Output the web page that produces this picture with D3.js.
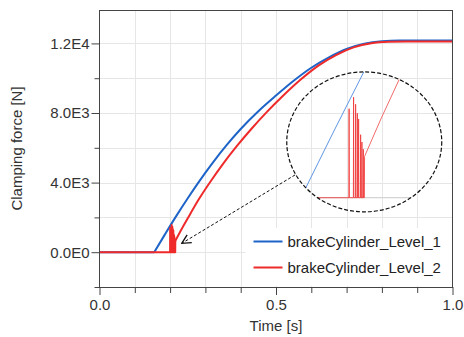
<!DOCTYPE html>
<html>
<head>
<meta charset="utf-8">
<script src="https://cdn.jsdelivr.net/npm/d3@7"></script>
<style>
  body { margin: 0; background: #fff; }
  text { font-family: "Liberation Sans", Arial, sans-serif; }
</style>
</head>
<body>
<div id="chart"></div>
<script>
// brakeCylinder_Level_1 (blue)
let timeLevel1  = [0, 0.155, 0.185, 0.215, 0.25, 0.28, 0.32, 0.36, 0.40, 0.45, 0.50, 0.55, 0.60, 0.65, 0.70, 0.75, 0.80, 0.85, 1.0];
let forceLevel1 = [0, 0, 1010, 2000, 3100, 4000, 5120, 6150, 7080, 8100, 9000, 9850, 10600, 11200, 11680, 11980, 12120, 12160, 12160];

// brakeCylinder_Level_2 (red): idle + contact chatter
let timeLevel2Chatter  = [0, 0.2000, 0.2002, 0.2004, 0.2042, 0.2044, 0.2046, 0.2061, 0.2063, 0.2065, 0.2077, 0.2079, 0.2081,
                          0.2089, 0.2091, 0.2093, 0.2108, 0.2110, 0.2112, 0.2120, 0.2122, 0.2124, 0.2133, 0.2135, 0.2137, 0.2145, 0.2147];
let forceLevel2Chatter = [0, 0, 1390, 0, 0, 1570, 0, 0, 1460, 0, 0, 1320, 0,
                          0, 1230, 0, 0, 985, 0, 0, 870, 0, 0, 757, 0, 0, 645];
// ... then the build-up
let timeLevel2  = [0.2147, 0.23, 0.25, 0.28, 0.315, 0.35, 0.39, 0.43, 0.475, 0.52, 0.57, 0.62, 0.67, 0.72, 0.77, 0.82, 0.87, 1.0];
let forceLevel2 = [645, 1230, 1950, 3000, 4080, 5080, 6120, 7080, 8080, 8990, 9920, 10720, 11330, 11770, 12010, 12090, 12110, 12110];

let seriesNames  = ["brakeCylinder_Level_1", "brakeCylinder_Level_2"];
let seriesColors = ["#1e64c8", "#ee2a2a"];

let xTicks = [0, 0.1, 0.2, 0.3, 0.4, 0.5, 0.6, 0.7, 0.8, 0.9, 1.0];
let xLabeled = [0, 0.5, 1.0];
let yTicks = [-2000, 0, 2000, 4000, 6000, 8000, 10000, 12000];
let yLabeled = [0, 4000, 8000, 12000];

// magnifier lens (data units) and arrow
let lens = {t: 0.75, f: 6340, rt: 0.2195, rf: 4020};
let arrowFrom = [0.554, 4440], arrowTo = [0.233, 510];
// window of data shown inside the lens and where it lands in the main coordinates
let insetTime = [0.2, 0.25], insetAt = [0.7065, 0.8576];
let insetForce = [0, 2000], insetAtF = [3132, 10489];

const W = 464, H = 337;
let margin = {top: 10, right: 11.5, bottom: 50, left: 99.5};

let svg = d3.select("#chart").append("svg")
  .attr("width", W)
  .attr("height", H);

let x = d3.scaleLinear().domain([0, 1]).range([margin.left, W - margin.right]);
let y = d3.scaleLinear().domain([-2000, 13920]).range([H - margin.bottom, margin.top]);

let zip = (ts, fs) => ts.map((t, i) => [t, fs[i]]);
let level1 = zip(timeLevel1, forceLevel1);
let level2Chatter = zip(timeLevel2Chatter, forceLevel2Chatter);
let level2 = zip(timeLevel2, forceLevel2);

// grid
svg.append("g").selectAll("line")
  .data(xTicks.filter(d => d > 0 && d < 1))
  .join("line")
  .attr("x1", d => Math.round(x(d)) + 0.5).attr("x2", d => Math.round(x(d)) + 0.5)
  .attr("y1", y.range()[1]).attr("y2", y.range()[0])
  .attr("stroke", "#e6e6e6");
svg.append("g").selectAll("line")
  .data(yTicks.filter(d => d > -2000))
  .join("line")
  .attr("x1", x.range()[0]).attr("x2", x.range()[1])
  .attr("y1", d => Math.round(y(d)) + 0.5).attr("y2", d => Math.round(y(d)) + 0.5)
  .attr("stroke", "#e6e6e6");

// series
function drawSeries(g, xs, ys, width, parts) {
  let lin = d3.line().x(d => xs(d[0])).y(d => ys(d[1]));
  let smooth = d3.line().x(d => xs(d[0])).y(d => ys(d[1])).curve(d3.curveMonotoneX);
  parts.forEach(p => {
    g.append("path")
      .datum(p.data)
      .attr("fill", "none")
      .attr("stroke", p.color)
      .attr("stroke-width", width)
      .attr("stroke-opacity", p.opacity || 1)
      .attr("stroke-linejoin", "round")
      .attr("d", p.smooth ? smooth : lin);
  });
}

let plot = svg.append("g");
drawSeries(plot, x, y, 2, [
  {data: level1.slice(0, 2), color: seriesColors[0]},
  {data: level1.slice(1), color: seriesColors[0], smooth: true},
  {data: level2Chatter, color: seriesColors[1]},
  {data: level2, color: seriesColors[1], smooth: true}
]);

// magnifier
let cx = x(lens.t), cy = y(lens.f);
let rx = x(lens.t + lens.rt) - cx, ry = y(lens.f - lens.rf) - cy;

let defs = svg.append("defs");
defs.append("clipPath").attr("id", "lensClip")
  .append("ellipse")
  .attr("cx", cx).attr("cy", cy).attr("rx", rx).attr("ry", ry);

defs.append("marker")
  .attr("id", "arrowHead")
  .attr("viewBox", "-11 -6 12 12")
  .attr("refX", 0).attr("refY", 0)
  .attr("markerUnits", "userSpaceOnUse")
  .attr("markerWidth", 12).attr("markerHeight", 12)
  .attr("orient", "auto")
  .append("path")
  .attr("d", "M-9,-4.5L0,0L-9,4.5")
  .attr("fill", "none")
  .attr("stroke", "#111")
  .attr("stroke-width", 1.3);

let ix = d3.scaleLinear().domain(insetTime).range(insetAt.map(x));
let iy = d3.scaleLinear().domain(insetForce).range(insetAtF.map(y));

let inset = svg.append("g").attr("clip-path", "url(#lensClip)");
inset.append("line")
  .attr("x1", cx - rx).attr("x2", cx + rx)
  .attr("y1", iy(0)).attr("y2", iy(0))
  .attr("stroke", "#d4d4d4").attr("stroke-width", 1.2);
drawSeries(inset, ix, iy, 1, [
  {data: level1, color: "#5d95e2"},
  {data: level2Chatter, color: "#f03a3a", opacity: 0.85},
  {data: level2, color: "#f06a6a"}
]);

svg.append("ellipse")
  .attr("cx", cx).attr("cy", cy).attr("rx", rx).attr("ry", ry)
  .attr("fill", "none")
  .attr("stroke", "#111")
  .attr("stroke-width", 1.2)
  .attr("stroke-dasharray", "4,2");

svg.append("line")
  .attr("x1", x(arrowFrom[0])).attr("y1", y(arrowFrom[1]))
  .attr("x2", x(arrowTo[0])).attr("y2", y(arrowTo[1]))
  .attr("stroke", "#111")
  .attr("stroke-width", 1)
  .attr("stroke-dasharray", "3,2")
  .attr("marker-end", "url(#arrowHead)");

// legend
let lgX = x.range()[1] - 207, lgY = y.range()[0] - 59;
let legend = svg.append("g");
legend.append("rect")
  .attr("x", lgX).attr("y", lgY)
  .attr("width", 207).attr("height", 58)
  .attr("fill", "#fff");
seriesNames.forEach((name, i) => {
  let ly = lgY + 13.5 + i * 26;
  legend.append("line")
    .attr("x1", lgX + 8).attr("x2", lgX + 37)
    .attr("y1", ly).attr("y2", ly)
    .attr("stroke", seriesColors[i])
    .attr("stroke-width", 2);
  legend.append("text")
    .attr("x", lgX + 42).attr("y", ly + 5.5)
    .attr("font-size", 15)
    .attr("fill", "#222")
    .text(name);
});

// frame
svg.append("rect")
  .attr("x", x.range()[0]).attr("y", y.range()[1] + 0.5)
  .attr("width", x.range()[1] - x.range()[0])
  .attr("height", y.range()[0] - y.range()[1])
  .attr("fill", "none")
  .attr("stroke", "#444")
  .attr("stroke-width", 1);

// axes
let fmtE = d => d3.format(".1e")(d).replace("e+", "E").replace("e-", "E-");

let yAxis = d3.axisLeft(y)
  .tickValues(yTicks)
  .tickSize(8)
  .tickPadding(2)
  .tickFormat(d => yLabeled.includes(d) ? fmtE(d) : "");
let gy = svg.append("g")
  .attr("transform", "translate(" + x.range()[0] + ",0)")
  .call(yAxis);
gy.select(".domain").remove();
gy.selectAll(".tick line")
  .attr("stroke", "#444")
  .attr("x2", d => yLabeled.includes(d) ? -8 : -5);
gy.selectAll(".tick text")
  .attr("font-size", 15)
  .attr("font-family", "Liberation Sans, Arial, sans-serif")
  .attr("fill", "#333");

let xAxis = d3.axisBottom(x)
  .tickValues(xTicks)
  .tickSize(7)
  .tickPadding(5)
  .tickFormat(d => xLabeled.includes(d) ? d3.format(".1f")(d) : "");
let gx = svg.append("g")
  .attr("transform", "translate(0," + y.range()[0] + ")")
  .call(xAxis);
gx.select(".domain").remove();
gx.selectAll(".tick line")
  .attr("stroke", "#444")
  .attr("y2", d => xLabeled.includes(d) ? 8 : 6);
gx.selectAll(".tick text")
  .attr("font-size", 15)
  .attr("font-family", "Liberation Sans, Arial, sans-serif")
  .attr("fill", "#333");

// axis titles
svg.append("text")
  .attr("x", (x.range()[0] + x.range()[1]) / 2)
  .attr("y", 331)
  .attr("text-anchor", "middle")
  .attr("font-size", 15)
  .attr("fill", "#333")
  .text("Time [s]");

svg.append("text")
  .attr("transform", "translate(22," + 148.5 + ") rotate(-90)")
  .attr("text-anchor", "middle")
  .attr("font-size", 15)
  .attr("fill", "#333")
  .text("Clamping force [N]");
</script>
</body>
</html>
